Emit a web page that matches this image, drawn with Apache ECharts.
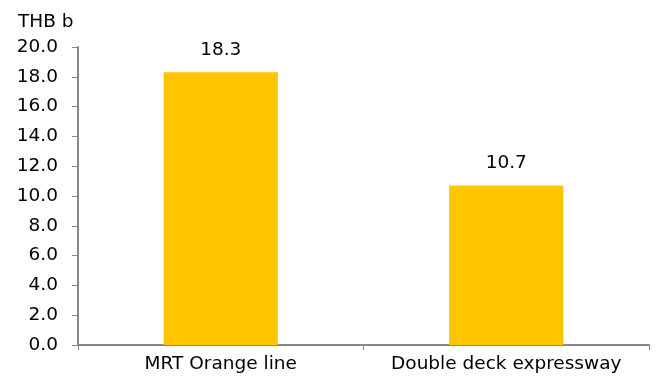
<!DOCTYPE html>
<html>
<head>
<meta charset="utf-8">
<script src="https://cdn.jsdelivr.net/npm/echarts@6/dist/echarts.min.js"></script>
<style>
  html, body { margin: 0; padding: 0; background: #fff; }
  #chart { width: 661px; height: 376px; }
</style>
</head>
<body>
<div id="chart"></div>
<script>
var categories = ['MRT Orange line', 'Double deck expressway'];
var values = [18.3, 10.7];
var yMin = 0, yMax = 20, yStep = 2;

var dom = document.getElementById('chart');
var myChart = echarts.init(dom);
var fontFam = 'DejaVu Sans';
var fontSz = 18.5;
var axisGray = '#888888';

var option = {
    animation: false,
    title: {
        text: 'THB b',
        left: 13,
        top: 8,
        textStyle: { fontFamily: fontFam, fontSize: fontSz, fontWeight: 'normal', color: '#000' }
    },
    grid: { left: 78, right: 12, top: 47, bottom: 31 },
    xAxis: {
        type: 'category',
        data: categories,
        axisLine: { lineStyle: { color: axisGray, width: 2 } },
        axisTick: { show: true, length: 5, lineStyle: { color: axisGray, width: 1 } },
        axisLabel: {
            interval: 0,
            hideOverlap: false,
            fontFamily: fontFam, fontSize: fontSz, color: '#000', margin: 10
        }
    },
    yAxis: {
        type: 'value',
        min: yMin,
        max: yMax,
        interval: yStep,
        axisLine: { show: true, lineStyle: { color: axisGray, width: 2 } },
        axisTick: { show: true, length: 6, lineStyle: { color: axisGray, width: 1 } },
        splitLine: { show: false },
        axisLabel: {
            fontFamily: fontFam, fontSize: fontSz, color: '#000', margin: 20,
            formatter: function (v) { return v.toFixed(1); }
        }
    },
    series: [{
        type: 'bar',
        data: values,
        barWidth: '40%',
        itemStyle: { color: '#FFC600' },
        label: {
            show: true,
            position: 'top',
            distance: 13,
            fontFamily: fontFam,
            fontSize: fontSz,
            color: '#000',
            formatter: function (p) { return p.value.toFixed(1); }
        }
    }]
};

myChart.setOption(option);
</script>
</body>
</html>
